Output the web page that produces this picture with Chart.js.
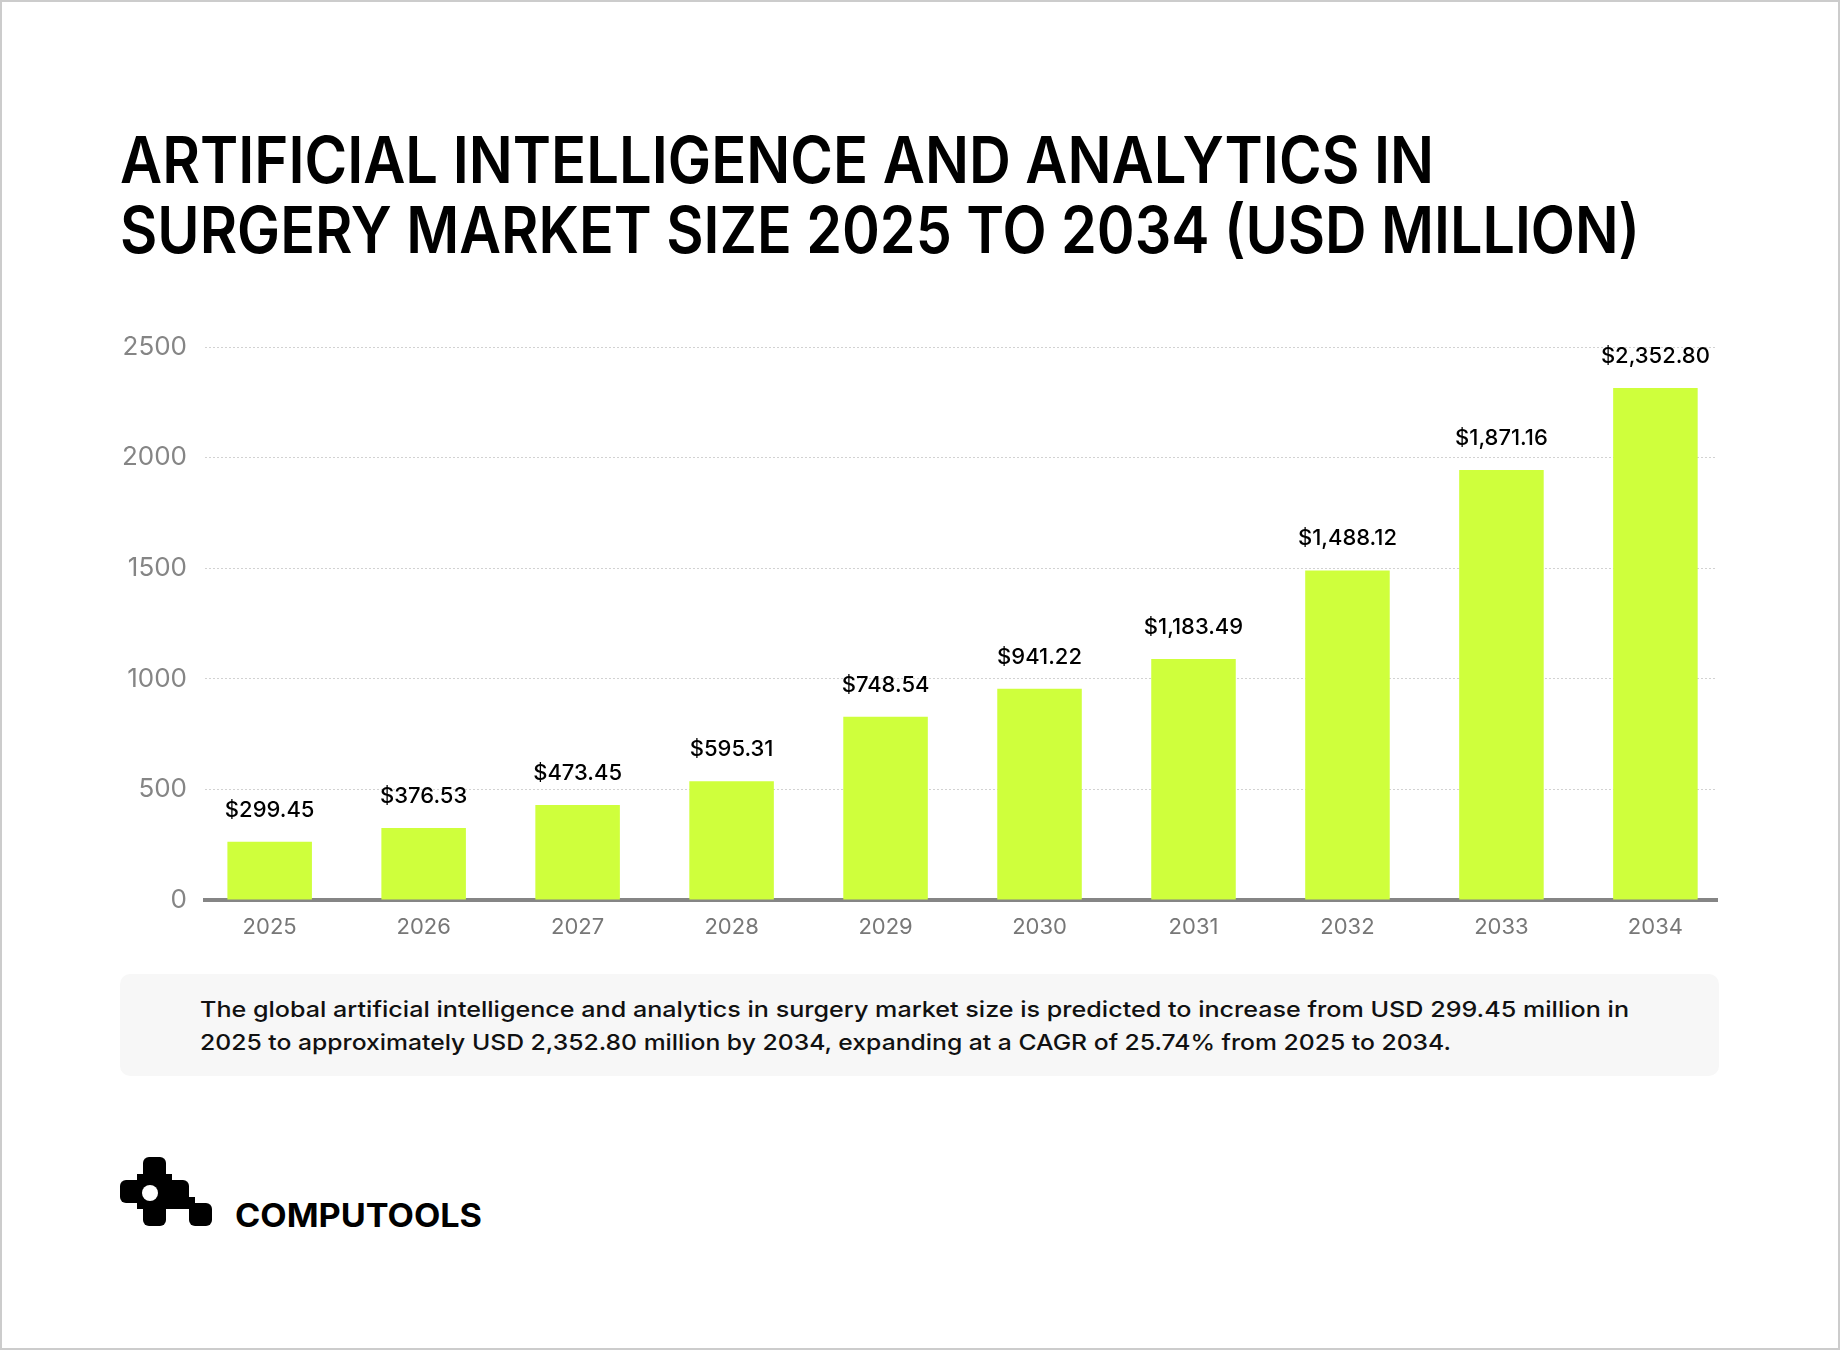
<!DOCTYPE html>
<html>
<head>
<meta charset="utf-8">
<script src="https://cdn.jsdelivr.net/npm/chart.js@4.4.1/dist/chart.umd.min.js"></script>
<style>
html,body{margin:0;padding:0;background:#fff;}
#page{position:relative;width:1840px;height:1350px;overflow:hidden;font-family:Inter,"Noto Sans",sans-serif;background:#fff;}
#frame{position:absolute;left:0;top:0;width:1840px;height:1350px;box-sizing:border-box;border:2px solid #cccccc;pointer-events:none;}
.line{position:absolute;white-space:nowrap;transform-origin:0 0;}
.title{left:120px;font-size:64px;font-weight:600;line-height:64px;color:#000;}
#box{position:absolute;left:120px;top:974px;width:1599px;height:102px;background:#f7f7f7;border-radius:10px;}
.body{left:200px;font-size:22px;font-weight:500;line-height:33px;color:#111;}
#chartWrap{position:absolute;left:0;top:300px;width:1840px;height:660px;}
#brand{left:235px;top:1197px;font-size:32px;font-weight:700;line-height:38px;color:#000;}
#logo{position:absolute;left:120px;top:1157px;}
</style>
</head>
<body>
<div id="page">
  <div class="line title" id="t1" data-w="1314" style="top:128px">ARTIFICIAL INTELLIGENCE AND ANALYTICS IN</div>
  <div class="line title" id="t2" data-w="1520" style="top:198px">SURGERY MARKET SIZE 2025 TO 2034 (USD MILLION)</div>
  <div id="chartWrap"><canvas id="c"></canvas></div>
  <div id="box"></div>
  <div class="line body" id="b1" data-w="1429" style="top:993px">The global artificial intelligence and analytics in surgery market size is predicted to increase from USD 299.45 million in</div>
  <div class="line body" id="b2" data-w="1251" style="top:1026px">2025 to approximately USD 2,352.80 million by 2034, expanding at a CAGR of 25.74% from 2025 to 2034.</div>
  <svg id="logo" width="92" height="69" viewBox="0 0 92 69">
    <g fill="#000">
      <rect x="23" y="0" width="23" height="23" rx="6"/>
      <rect x="0" y="23" width="23" height="23" rx="6"/>
      <rect x="46" y="23" width="23" height="23" rx="6"/>
      <rect x="23" y="46" width="23" height="23" rx="6"/>
      <rect x="69" y="46" width="23" height="23" rx="6"/>
      <rect x="17" y="17" width="35" height="35"/>
      <rect x="40" y="40" width="35" height="12"/>
      <rect x="63" y="40" width="12" height="12"/>
    </g>
    <circle cx="30" cy="36" r="8" fill="#fff"/>
  </svg>
  <div class="line" id="brand" data-w="247">COMPUTOOLS</div>
  <div id="frame"></div>
</div>
<script>
// ---- data ----
const years = [2025, 2026, 2027, 2028, 2029, 2030, 2031, 2032, 2033, 2034];
const barValues = [263, 326, 429, 537, 828, 955, 1090, 1490, 1944, 2315];
const valueLabels = ["$299.45", "$376.53", "$473.45", "$595.31", "$748.54", "$941.22", "$1,183.49", "$1,488.12", "$1,871.16", "$2,352.80"];
const yTicks = [0, 500, 1000, 1500, 2000, 2500];

function fitLines(){
  document.querySelectorAll('.line[data-w]').forEach(el=>{
    el.style.transform='none';
    const w = el.getBoundingClientRect().width;
    const target = parseFloat(el.dataset.w);
    el.style.transform = 'scaleX(' + (target / w) + ')';
  });
}

const valueLabelPlugin = {
  id: 'valueLabels',
  afterDatasetsDraw(chart){
    const ctx = chart.ctx;
    const meta = chart.getDatasetMeta(0);
    ctx.save();
    ctx.font = '500 22px Inter, "Noto Sans", sans-serif';
    ctx.fillStyle = '#000';
    ctx.textAlign = 'center';
    ctx.textBaseline = 'alphabetic';
    meta.data.forEach((bar, i) => {
      ctx.fillText(valueLabels[i], bar.x, bar.y - 25);
    });
    ctx.restore();
  }
};

function draw(){
  fitLines();
  new Chart(document.getElementById('c'), {
    type: 'bar',
    data: {
      datasets: [{
        data: years.map((y, i) => ({x: y, y: barValues[i]})),
        backgroundColor: '#cfff3c',
        borderWidth: 0,
        barPercentage: 0.549,
        categoryPercentage: 1
      }]
    },
    options: {
      responsive: true,
      maintainAspectRatio: false,
      animation: false,
      layout: {padding: {left: 0, right: 123, top: 47, bottom: 10}},
      plugins: {legend: {display: false}, tooltip: {enabled: false}},
      scales: {
        x: {
          type: 'linear',
          offset: false,
          min: 2024.58,
          max: 2034.40,
          z: 1,
          grid: {display: false, drawTicks: false, offset: false},
          border: {display: true, color: '#858585', width: 4},
          afterBuildTicks: s => { s.ticks = years.map(v => ({value: v})); },
          afterFit: s => { s.height = 50; },
          ticks: {
            color: '#777777',
            font: {family: 'Inter', size: 22},
            padding: 14,
            autoSkip: false,
            maxRotation: 0,
            callback: v => String(v)
          }
        },
        y: {
          min: 0,
          max: 2500,
          grid: {color: '#d2d2d2', lineWidth: 1, drawTicks: false},
          border: {display: false, dash: [2, 2]},
          afterBuildTicks: s => { s.ticks = yTicks.map(v => ({value: v})); },
          afterFit: s => { s.width = 205; },
          ticks: {
            color: '#858585',
            font: {family: 'Inter', size: 26},
            padding: 18,
            callback: v => String(v)
          }
        }
      }
    },
    plugins: [valueLabelPlugin]
  });
}
if (document.fonts && document.fonts.ready) {
  document.fonts.load('600 64px Inter').then(() => document.fonts.ready).then(draw, draw);
} else { draw(); }
</script>
</body>
</html>
